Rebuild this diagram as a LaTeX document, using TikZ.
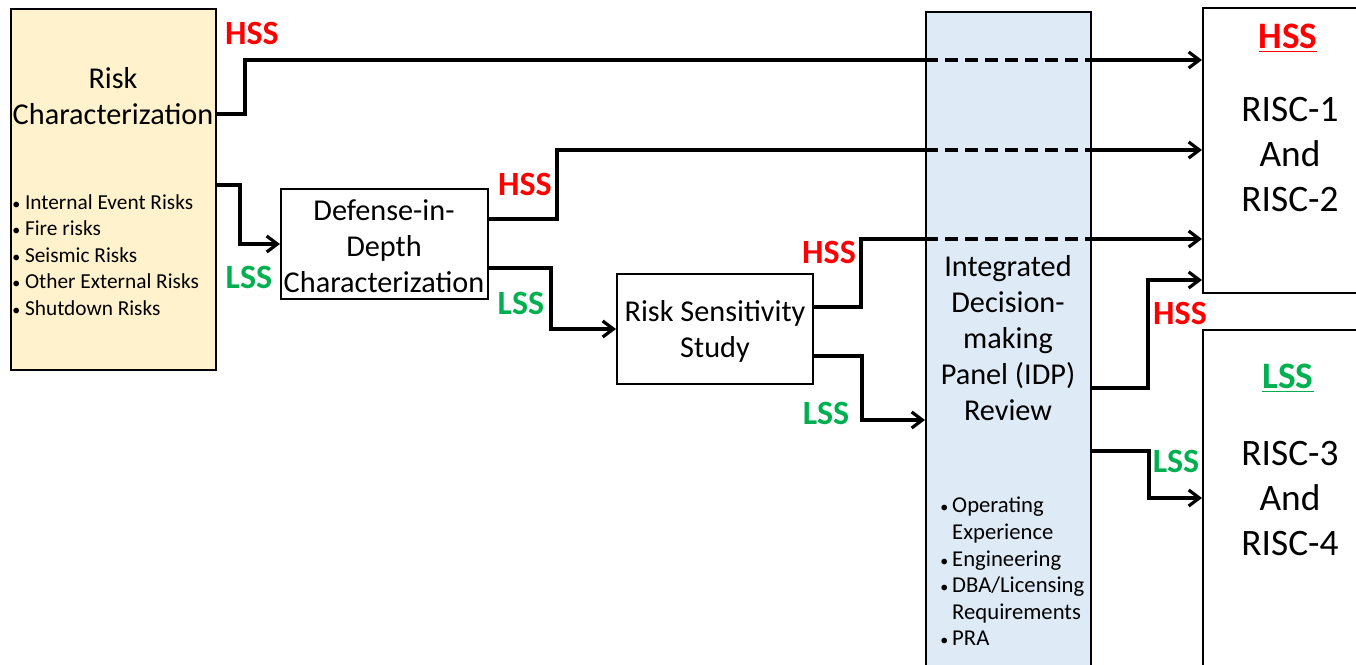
\documentclass[tikz,border=0pt]{standalone}
\usepackage{fontspec}
\setmainfont{Carlito}
\usepackage{tikz}
\usetikzlibrary{arrows.meta}
\definecolor{hssred}{RGB}{255,0,0}
\definecolor{lssgreen}{RGB}{0,176,80}
\definecolor{rcfill}{RGB}{255,242,204}
\definecolor{idpfill}{RGB}{222,235,247}
\newcommand{\fs}[2]{\fontsize{#1}{#2}\selectfont}
\newcommand{\bul}{{\fs{12}{12}•}}

\begin{document}
\begin{tikzpicture}[x=0.75pt,y=-0.75pt]
  \tikzstyle{Box}=[draw,line width=1.5pt,inner sep=0pt]
  \tikzstyle{Txt}=[align=center,inner sep=0pt,font=\fs{22.7}{27}]
  \tikzstyle{Bul}=[align=left,inner sep=0pt,anchor=west,font=\fs{16}{19.9}]
  \tikzstyle{Big}=[align=center,inner sep=0pt,font=\fs{28}{33.75}]
  \tikzstyle{Hss}=[inner sep=0pt,text=hssred,font=\fs{25.5}{28}\bfseries]
  \tikzstyle{Lss}=[inner sep=0pt,text=lssgreen,font=\fs{25.5}{28}\bfseries]
  \tikzstyle{Line}=[line width=2.4pt]
  \tikzstyle{Flow}=[Line,-{Straight Barb[length=8pt,width=12pt]}]
  \tikzstyle{Dash}=[Line,dash pattern=on 10pt off 5pt]
  \useasboundingbox (0,0) rectangle (1356,664);
  \clip (0,0) rectangle (1356,664);
  % boxes
  \node[Box,fill=rcfill,minimum width=153.75pt,minimum height=270.75pt] (rc) at (113.5,189.5) {};
  \node[Box,minimum width=155.25pt,minimum height=82.5pt] (did) at (384.5,244) {};
  \node[Box,minimum width=147pt,minimum height=82.5pt] (rss) at (715,329) {};
  \node[Box,fill=idpfill,minimum width=123.75pt,minimum height=501pt] (idp) at (1008.5,346) {};
  \node[Box,minimum width=125.25pt,minimum height=213.75pt] (risc12) at (1286.5,150.5) {};
  \node[Box,minimum width=125.25pt,minimum height=262.5pt] (risc34) at (1286.5,505) {};
  % texts
  \node[Txt] (rctitle) at (113,96) {Risk\\Characterization};
  \node[Bul] (rclist) at (12,255) {\bul\ Internal Event Risks\\\bul\ Fire risks\\\bul\ Seismic Risks\\\bul\ Other External Risks\\\bul\ Shutdown Risks};
  \node[Txt] (didtext) at (384,246) {Defense-in-\\Depth\\Characterization};
  \node[Txt] (rsstext) at (715,331) {Risk Sensitivity\\Study};
  \node[Txt] (idptext) at (1008,338) {Integrated\\Decision-\\making\\Panel (IDP)\\Review};
  \node[Bul,font=\fs{17}{19.9}] (idplist) at (940,574) {%
    \begin{tabular}{@{}l@{\hspace{3pt}}l@{}}
      \bul & Operating\\ & Experience\\ \bul & Engineering\\
      \bul & DBA/Licensing\\ & Requirements\\ \bul & PRA
    \end{tabular}};
  \node[Hss,font=\fs{28}{33}\bfseries] (hsshead) at (1288,38) {\underline{HSS}};
  \node[Big] (risc12text) at (1290,155) {RISC-1\\And\\RISC-2};
  \node[Lss,font=\fs{28}{33}\bfseries] (lsshead) at (1288,378) {\underline{LSS}};
  \node[Big] (risc34text) at (1290,499) {RISC-3\\And\\RISC-4};
  % significance labels
  \node[Hss] (hss1) at (252,33) {HSS};
  \node[Lss] (lss1) at (249,277) {LSS};
  \node[Hss] (hss2) at (525,184) {HSS};
  \node[Lss] (lss2) at (521,303) {LSS};
  \node[Hss] (hss3) at (829,252) {HSS};
  \node[Lss] (lss3) at (826,413) {LSS};
  \node[Hss] (hss4) at (1180,313) {HSS};
  \node[Lss] (lss4) at (1176,461) {LSS};
  % connectors
  \draw[Line] (rc.east |- 0,114) -- (245,114) |- (idp.west |- 0,60);
  \draw[Dash] (idp.west |- 0,60) -- (idp.east |- 0,60);
  \draw[Flow] (idp.east |- 0,60) -- (risc12.west |- 0,60);
  \draw[Flow] (rc.east |- 0,185) -- (240,185) |- (did.west);
  \draw[Line] (did.east |- 0,219) -- (557,219) |- (idp.west |- 0,150);
  \draw[Dash] (idp.west |- 0,150) -- (idp.east |- 0,150);
  \draw[Flow] (idp.east |- 0,150) -- (risc12.west |- 0,150);
  \draw[Flow] (did.east |- 0,268) -- (551,268) |- (rss.west);
  \draw[Line] (rss.east |- 0,307) -- (861,307) |- (idp.west |- 0,239);
  \draw[Dash] (idp.west |- 0,239) -- (idp.east |- 0,239);
  \draw[Flow] (idp.east |- 0,239) -- (risc12.west |- 0,239);
  \draw[Flow] (rss.east |- 0,356) -- (862,356) |- (idp.west |- 0,420);
  \draw[Flow] (idp.east |- 0,388) -- (1148,388) |- (risc12.west |- 0,280);
  \draw[Flow] (idp.east |- 0,451) -- (1149,451) |- (risc34.west |- 0,498);
%  \draw[Flow] (idp.east) -- (risc34.west);
\end{tikzpicture}
\end{document}
